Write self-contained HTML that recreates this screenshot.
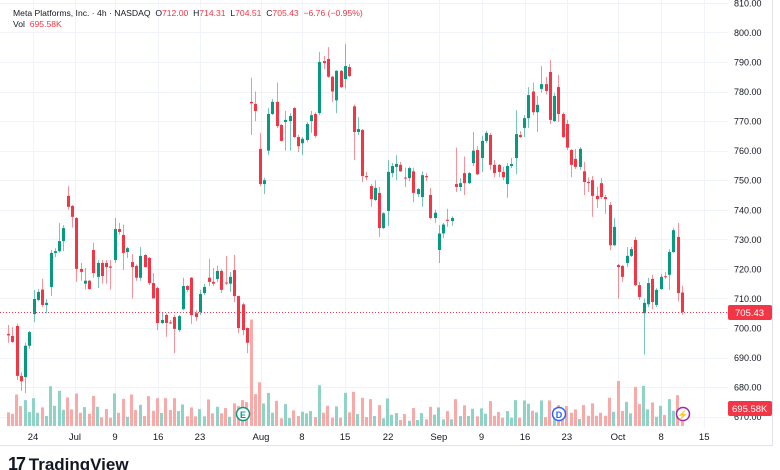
<!DOCTYPE html>
<html><head><meta charset="utf-8">
<style>
html,body{margin:0;padding:0;background:#fff;width:780px;height:470px;overflow:hidden;font-family:"Liberation Sans",sans-serif;}
#wrap{position:relative;width:780px;height:470px;}
svg{position:absolute;left:0;top:0;}
.hdr{position:absolute;left:13px;font-size:8.6px;color:#131722;white-space:nowrap;}
.red{color:#f23645;}
</style></head>
<body>
<div id="wrap">
<svg id="chart" width="780" height="470"></svg>
<div class="hdr" style="top:8px">Meta Platforms, Inc. · 4h · NASDAQ &nbsp;O<span class="red">712.00</span> &nbsp;H<span class="red">714.31</span> &nbsp;L<span class="red">704.51</span> &nbsp;C<span class="red">705.43</span> &nbsp;<span class="red">−6.76 (−0.95%)</span></div>
<div class="hdr" style="top:19px">Vol &nbsp;<span class="red">695.58K</span></div>
<div style="position:absolute;left:8px;top:454px;font-size:17px;font-weight:bold;color:#131722;white-space:nowrap"><span style="font-size:18px;letter-spacing:-2px">17</span> TradingView</div>
</div>
<script>
const opens=[698,697.3,700.7,683.8,683.4,694,704.7,709.5,713,707.8,713.9,725.4,726,729.4,744.7,741.3,737.2,720,715,716,726.4,717.3,722,722,720.8,723,733.5,731.5,725.7,722.3,721,717,724.7,723.7,715.2,713.5,701.7,704.4,701.9,703.7,699.3,706.4,714.2,717,705,705.4,711.8,717,715.6,716.6,719.3,715.4,715,719.6,710.8,708,700,776.5,775.8,760.6,748.7,760,772.4,776.5,768.7,769.7,770,774.4,764.6,762.5,763.6,770,772.4,772.7,790.3,791,785,777,787,784.2,788.3,775,766.3,767,751.4,748,743.3,745.7,733.8,739.6,752.4,754.5,755.2,750.9,750.7,753,745.3,744.3,751.4,745,737.2,726.4,732,736.6,736.2,748.7,747.7,752.4,749,755.8,760.2,757.5,763.3,765.3,755.2,755.2,752.8,748.7,754.8,757.5,765.3,767.7,771,780,773,780.9,782.5,786.6,770,781.5,772.4,769,760.2,757.2,754.5,753,749.4,750,744.7,749,744.3,741.6,728,721.3,721,722,724.4,729.8,714.5,705,708,716.6,707.8,713.2,717.5,718,725.7,730.8,712];
const highs=[701,700.3,701.5,685,695,699,712.9,713.2,716.6,709.8,726.4,727,735.5,734.8,748,741.6,737.5,722,720.3,716.3,728.8,723,723,723,723,737.2,735.5,735,727.4,725,721.5,727.4,725,724,718.6,714,705.4,705,702.7,704.4,704.4,717,714.5,717.3,706,712.9,714.9,723.4,720.3,721,719.9,724.4,719,724.7,711,708.5,700.2,784.6,780,766,750.8,774.4,777.5,783,769,773.4,772.7,774.7,765.3,764.6,769.7,773.4,773,793.4,792,795,785.3,787.3,787.3,796,789.3,775.6,771.4,767.3,752.8,748.7,750,747.7,739.2,756.8,755.8,758.5,756.2,754.2,754.5,754.2,747.4,753,752.4,747.4,740,734.8,735.5,740.3,737.8,761,750.7,758,752.8,766.3,761.5,765,766.7,766,756.8,755.5,754.5,755.8,757.5,773.7,766.6,772,781.5,783,778.5,788.6,785,790.6,779.6,785.6,773,770.4,760.6,760.6,761.2,756.2,751,751.4,747.7,750.7,745,742.6,737.2,721.7,721.3,727.4,727.4,730.8,715.6,710,717,718,713.5,718.3,719,726.7,733.8,735.5,714.31];
const lows=[695,695,682.4,678.7,678,693,702,709,707,705,710.8,724,725.5,726,740,734,715.6,716,713,713,717,713.5,715,715,713,722,731.6,719.6,723.7,710,716,716,720.6,714.5,710,699.3,701.4,697,701.4,691.5,698.6,706,712.2,701.4,702.4,704.4,711.2,714.2,714.2,715.6,711.8,714.5,712.2,708.8,698.3,697.6,691.5,765.3,770,748,745.3,758.5,772,767.7,763,760,760,764.3,759.5,758.5,763,766,764.3,772,787.6,784.6,776.5,772.7,781.2,781,785,756.8,765.3,749.4,750,741,743,730.8,733.4,734.5,751,750,752.8,747.7,749.7,742.6,744.3,741,749.7,736.8,735.5,722,730.5,734.2,734.6,746,746.3,745,748.7,754.8,751.7,752.8,762.6,753.5,751,751,750,744,754.1,752,764.3,764.6,767.7,772,766.3,779.6,779,769,769.7,769.7,764.3,760.2,751,753.8,753.5,745,746,737.6,740.6,743.6,738.6,726.4,727.7,710,715.6,720.6,724,714.2,709.5,691,707.1,706.4,707.1,712.9,716.6,712.9,725.4,709,704.51];
const closes=[697.5,695.3,683.8,682,694,698.6,709.8,712.2,707.8,708.5,725.4,726,729.4,733.8,741,737.6,720,719,716,713.2,718.6,722,717.6,720.6,720.4,733.5,732.5,725.4,727,720.6,717,724.4,720.6,715.2,710,701.7,702.7,701.7,701.7,699.7,704,714.2,712.9,704.4,703.7,711.5,713.9,715.6,715,719.3,712.9,715.2,717.3,710.8,700,699.3,695,776,773.4,748.7,750,772.4,776.5,768.3,763.3,770.4,771.7,764.6,761.5,764,769,772,765,790,789.6,785,780,787,781.5,788.6,785.2,766.3,767.3,751.4,751,743.6,747.4,733.8,738.8,752.8,754.8,755.5,753,750.7,754.1,745.7,747,751.7,751,737.2,739,732,735,736.4,737.2,747.7,749,749,752.4,760,752,763.3,766,755.2,752.4,752.8,751,754.8,755.5,765.6,764.6,771,778.8,773,775.5,782.5,780.2,770.4,778.5,772.4,764.6,761,755.2,754.5,760.6,749.4,749,744.7,743.6,744.3,743.6,728,734.2,720.6,717.3,724.4,726.7,714.5,710.5,708.5,715.2,708.8,712.9,717.3,717.3,725.7,733.1,711.8,705.43];
const volumes=[507,455,1173,740,962,518,1036,492,692,370,1480,751,1306,603,1062,618,1210,492,703,455,1121,714,322,629,307,1210,492,1010,344,1173,592,788,370,1110,566,1036,481,1036,592,1036,555,803,359,692,359,629,359,988,470,714,470,666,344,840,740,962,888,3959,1184,1628,840,1232,492,936,285,814,296,581,370,529,470,555,333,1517,492,751,307,729,307,1232,507,1269,444,1047,333,999,370,777,285,1025,418,481,222,444,196,666,222,481,248,714,418,692,248,555,248,999,370,766,370,640,359,655,455,925,381,518,307,555,307,962,307,951,825,566,507,951,333,951,655,777,492,740,492,618,259,777,381,840,381,492,381,1047,529,1676,555,899,470,1454,814,1491,618,877,344,751,407,999,566,1147,695.58];
const priceTicks=[810,800,790,780,770,760,750,740,730,720,710,700,690,680,670];
const dateLabels=["24","Jul","9","16","23","Aug","8","15","22","Sep","9","16","23","Oct","8","15"];
const dateIdx=[5.86,15.7,25.1,35.2,45,59.3,68.9,79,89.1,101,111,121.2,131,143,153.1,163.2];
const lastPrice=705.43, lastVolLabel="695.58K";

const NS="http://www.w3.org/2000/svg";
const svg=document.getElementById('chart');
const PW=728;
function yP(p){return 328-(p-700)*2.956;}
function xI(i){return 8+i*4.266;}
function yV(v){return 426-v*(18.7/695.58);}
function mk(tag,attrs,parent){const e=document.createElementNS(NS,tag);for(const k in attrs)e.setAttribute(k,attrs[k]);(parent||svg).appendChild(e);return e;}

const grid=mk('g',{});


priceTicks.forEach(p=>{const l=mk('line',{x1:0,x2:PW,y1:Math.round(yP(p))+0.5,y2:Math.round(yP(p))+0.5,stroke:'#f0f3fa','stroke-width':1},grid);

});
dateIdx.forEach(d=>{const l=mk('line',{x1:Math.round(xI(d))+0.5,x2:Math.round(xI(d))+0.5,y1:0,y2:428,stroke:'#f0f3fa','stroke-width':1},grid);

});

const vg=mk('g',{});


volumes.forEach((v,i)=>{const up=closes[i]>=opens[i];const y=yV(v);
const r=mk('rect',{x:Math.round(xI(i)-1.5),y:y,width:3,height:426-y,fill:up?'#8fd3c7':'#f8a9a8'},vg);

});

const cg=mk('g',{});


opens.forEach((o,i)=>{const c=closes[i];const up=c>=o;const col=up?'#089981':'#f23645';const cx=Math.round(xI(i));
const w=mk('line',{x1:cx+0.5,x2:cx+0.5,y1:yP(highs[i]),y2:yP(lows[i]),stroke:col,'stroke-opacity':0.55,'stroke-width':1},cg);


const t=yP(Math.max(o,c)),b=yP(Math.min(o,c));
const r=mk('rect',{x:cx-1,y:t,width:3,height:Math.max(1,b-t),fill:col},cg);

});

const pl=mk('line',{x1:0,x2:PW,y1:Math.round(yP(lastPrice))+0.5,y2:Math.round(yP(lastPrice))+0.5,stroke:'#f23645','stroke-width':1,'stroke-dasharray':'1 2'});



const ax=mk('g',{'font-family':'Liberation Sans, sans-serif','font-size':'9',fill:'#131722'});


priceTicks.forEach(p=>{const t=mk('text',{x:734,y:yP(p)+3.5},ax);t.textContent=p.toFixed(2);

});
const xa=mk('g',{'font-family':'Liberation Sans, sans-serif','font-size':'9.5',fill:'#131722','text-anchor':'middle'});


dateLabels.forEach((d,k)=>{const t=mk('text',{x:xI(dateIdx[k]),y:440},xa);t.textContent=d;

});

const b1=mk('rect',{x:728,y:yP(lastPrice)-7,width:44,height:15,fill:'#f23645',rx:2});


const t1=mk('text',{x:735,y:yP(lastPrice)+4,'font-size':'9.5',fill:'#fff','font-family':'Liberation Sans, sans-serif'});t1.textContent=lastPrice.toFixed(2);


const b2=mk('rect',{x:728,y:401,width:44,height:15,fill:'#f23645',rx:2});


const t2=mk('text',{x:732,y:412,'font-size':'9.5',fill:'#fff','font-family':'Liberation Sans, sans-serif'});t2.textContent=lastVolLabel;



const bl=mk('line',{x1:0,x2:772,y1:445.5,y2:445.5,stroke:'#e0e3eb'});


const rl=mk('line',{x1:772.5,x2:772.5,y1:0,y2:446,stroke:'#e0e3eb'});



function marker(x,label,col,name){const g=mk('g',{});


mk('circle',{cx:x,cy:414,r:6.5,fill:'#fff',stroke:col,'stroke-width':1.5},g);
const t=mk('text',{x:x,y:418,'text-anchor':'middle','font-size':'9','font-weight':'bold',fill:col,'font-family':'Liberation Sans, sans-serif'},g);t.textContent=label;}
marker(243,'E','#089981','earnings-marker');
marker(559,'D','#2962ff','dividend-marker');
marker(683,'⚡','#9c27b0','event-marker');
</script>
</body></html>
